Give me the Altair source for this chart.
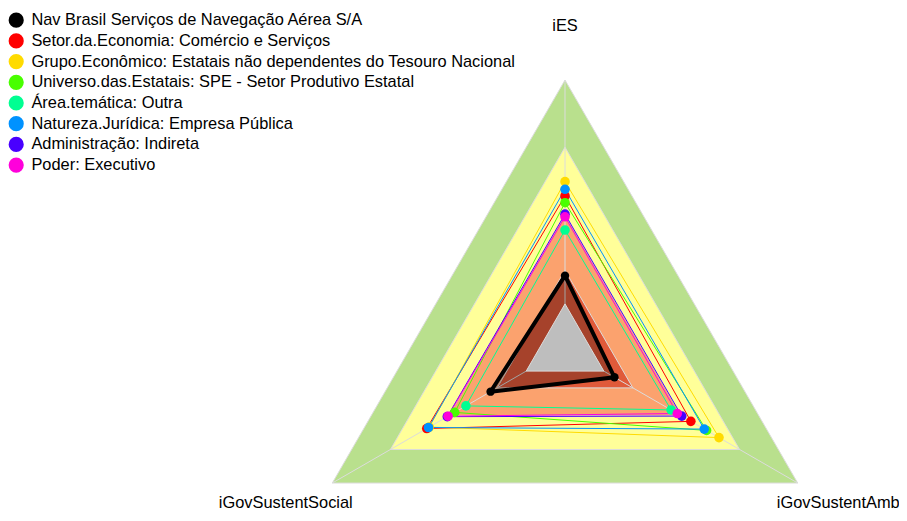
import math
import altair as alt
import pandas as pd

# ---------------- data ----------------
series = [
    "Nav Brasil Serviços de Navegação Aérea S/A",
    "Setor.da.Economia: Comércio e Serviços",
    "Grupo.Econômico: Estatais não dependentes do Tesouro Nacional",
    "Universo.das.Estatais: SPE - Setor Produtivo Estatal",
    "Área.temática: Outra",
    "Natureza.Jurídica: Empresa Pública",
    "Administração: Indireta",
    "Poder: Executivo",
]
series_colors = ["#000000", "#FF0000", "#FFDB00", "#49FF00",
                 "#00FF92", "#0092FF", "#4900FF", "#FF00DB"]

axis_names = ["iES", "iGovSustentSocial", "iGovSustentAmb"]
axis_angles = [90, 210, 330]

iES = [0.126, 0.482, 0.546, 0.452, 0.330, 0.512, 0.401, 0.389]
iGovSustentSocial = [0.184, 0.513, 0.500, 0.369, 0.311, 0.504, 0.407, 0.403]
iGovSustentAmb = [0.055, 0.449, 0.594, 0.530, 0.347, 0.518, 0.402, 0.379]

band_levels = [1.00, 0.70, 0.40, 0.15]
band_colors = ["#B9E08D", "#FFFF99", "#FBA26E", "#E05A3A"]
hole_color = "#BEBEBE"
grid_color = "#DCDCDC"
seg = 5


# ------------- radar projection helpers -------------
def radius(v):
    return 1.0 / (seg + 1) + v * seg / (seg + 1)


def vertex(v, ang):
    r = radius(v)
    return r * math.cos(math.radians(ang)), r * math.sin(math.radians(ang))


values = [iES, iGovSustentSocial, iGovSustentAmb]

rows = []
for k, s in enumerate(series):
    for i in range(len(axis_names) + 1):
        j = i % len(axis_names)
        x, y = vertex(values[j][k], axis_angles[j])
        rows.append({"serie": s, "k": k, "idx": i, "x": x, "y": y})
df = pd.DataFrame(rows)
df_pts = df[df["idx"] < len(axis_names)]


def ring(level):
    out = []
    for i in range(len(axis_names) + 1):
        j = i % len(axis_names)
        x, y = vertex(level, axis_angles[j])
        out.append({"idx": i, "x": x, "y": y})
    return pd.DataFrame(out)


# view: 891 x 505 px, 268.7 px per unit, centre at view (557, 340.7)
xs = alt.Scale(domain=[-2.073, 1.243], nice=False, zero=False)
ys = alt.Scale(domain=[-0.6115, 1.268], nice=False, zero=False)


def X():
    return alt.X("x:Q", scale=xs, axis=None)


def Y():
    return alt.Y("y:Q", scale=ys, axis=None)


layers = []
for lvl, col in zip(band_levels, band_colors):
    layers.append(
        alt.Chart(ring(lvl)).mark_line(fill=col, stroke=grid_color, strokeWidth=1)
        .encode(x=X(), y=Y(), order="idx:Q")
    )

# axis spokes
spokes = []
for name, ang in zip(axis_names, axis_angles):
    x2, y2 = vertex(1.0, ang)
    spokes.append({"x": 0.0, "y": 0.0, "x2": x2, "y2": y2})
layers.append(
    alt.Chart(pd.DataFrame(spokes)).mark_rule(color=grid_color, strokeWidth=1)
    .encode(x=X(), y=Y(), x2="x2:Q", y2="y2:Q")
)

# translucent fill of the company polygon
layers.append(
    alt.Chart(df[df["k"] == 0]).mark_line(fill="black", fillOpacity=0.26, strokeOpacity=0)
    .encode(x=X(), y=Y(), order="idx:Q")
)

# centre hole
layers.append(
    alt.Chart(ring(0.0)).mark_line(fill=hole_color, stroke=grid_color, strokeWidth=1)
    .encode(x=X(), y=Y(), order="idx:Q")
)

layers.append(
    alt.Chart(df).mark_line()
    .encode(
        x=X(), y=Y(), order="idx:Q",
        stroke=alt.Stroke("k:N",
                          scale=alt.Scale(domain=list(range(len(series))),
                                          range=series_colors),
                          legend=None),
        detail="k:N",
        strokeWidth=alt.condition("datum.k == 0", alt.value(4), alt.value(1)),
    )
)

layers.append(
    alt.Chart(df_pts).mark_circle(opacity=1)
    .encode(
        x=X(), y=Y(),
        color=alt.Color(
            "serie:N", scale=alt.Scale(domain=series, range=series_colors),
            legend=alt.Legend(
                orient="none", legendX=0, legendY=4, title=None,
                symbolType="circle", symbolSize=230, symbolStrokeWidth=0,
                symbolOpacity=1,
                labelFontSize=16.4, labelFont="Liberation Sans", labelColor="black",
                rowPadding=3.7, labelOffset=7, padding=0, labelLimit=1000,
            ),
        ),
        size=alt.condition("datum.k == 0", alt.value(70), alt.value(92)),
    )
)

lab_rows = []
for name, ang in zip(axis_names, axis_angles):
    r = 1.2
    lab_rows.append({"label": name,
                     "x": r * math.cos(math.radians(ang)),
                     "y": r * math.sin(math.radians(ang))})
lab_df = pd.DataFrame(lab_rows)
label_offsets = {"iES": (0, 0), "iGovSustentSocial": (0, -7), "iGovSustentAmb": (-6, -7)}
for name in axis_names:
    ddx, ddy = label_offsets[name]
    layers.append(
        alt.Chart(lab_df[lab_df["label"] == name]).mark_text(
            font="Liberation Sans", fontSize=16.4, color="black",
            align="center", baseline="middle", dx=ddx, dy=ddy)
        .encode(x=X(), y=Y(), text="label:N")
    )

chart = alt.layer(*layers).properties(
    width=891, height=505,
    autosize=alt.AutoSizeParams(type="none"),
    padding=0,
    background="white",
).configure_view(stroke=None)

chart.save("out.html", embed_options={"renderer": "svg", "actions": False})
